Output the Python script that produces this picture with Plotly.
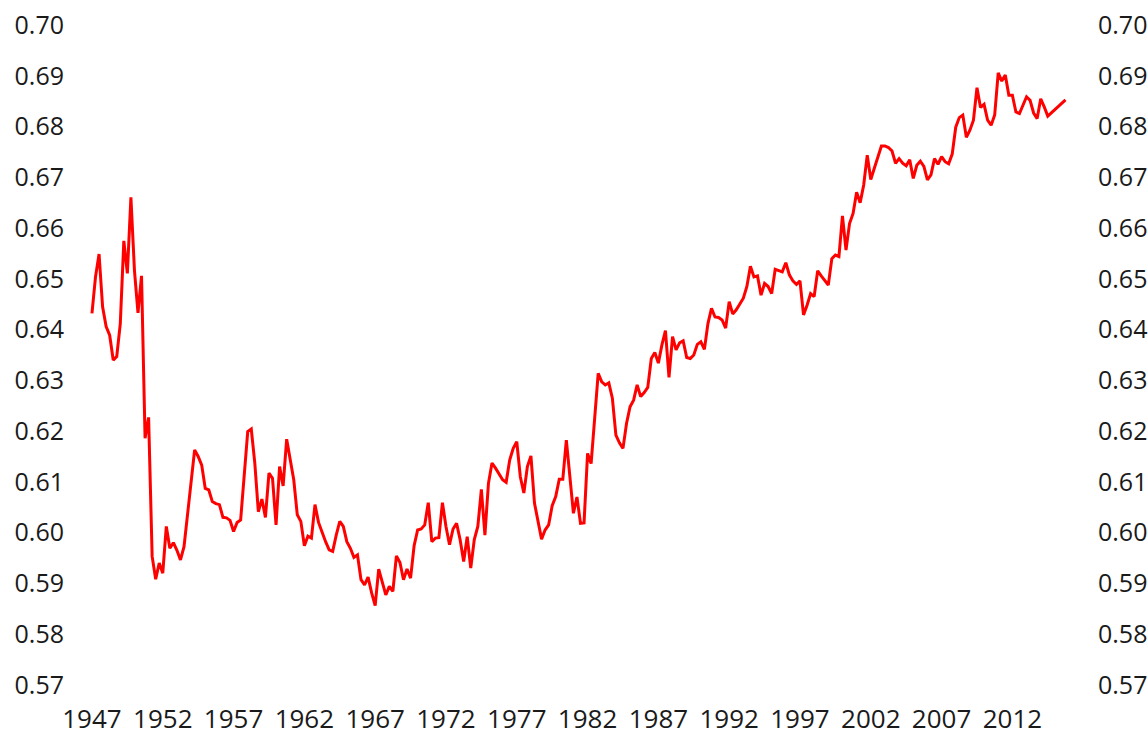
import plotly.graph_objects as go

# Quarterly series starting 1947 Q1
start_year = 1947
values = [
    0.6432, 0.6504, 0.6549, 0.6445, 0.6406, 0.6389, 0.6340, 0.6347,  # 1947-48
    0.6412, 0.6575, 0.6511, 0.6661, 0.6517, 0.6433, 0.6506, 0.6186,  # 1949-50
    0.6227, 0.5953, 0.5908, 0.5940, 0.5920, 0.6012, 0.5969, 0.5980,  # 1951-52
    0.5965, 0.5946, 0.5972, 0.6038, 0.6100, 0.6163, 0.6150, 0.6133,  # 1953-54
    0.6087, 0.6084, 0.6061, 0.6057, 0.6055, 0.6030, 0.6029, 0.6024,  # 1955-56
    0.6002, 0.6020, 0.6025, 0.6110, 0.6199, 0.6204, 0.6137, 0.6041,  # 1957-58
    0.6066, 0.6030, 0.6117, 0.6107, 0.6015, 0.6130, 0.6092, 0.6184,  # 1959-60
    0.6146, 0.6104, 0.6035, 0.6022, 0.5974, 0.5993, 0.5989, 0.6055,  # 1961-62
    0.6020, 0.5999, 0.5982, 0.5966, 0.5963, 0.5995, 0.6022, 0.6012,  # 1963-64
    0.5982, 0.5969, 0.5951, 0.5956, 0.5907, 0.5897, 0.5912, 0.5881,  # 1965-66
    0.5856, 0.5928, 0.5904, 0.5877, 0.5894, 0.5884, 0.5954, 0.5941,  # 1967-68
    0.5907, 0.5928, 0.5910, 0.5974, 0.6005, 0.6007, 0.6015, 0.6059,  # 1969-70
    0.5982, 0.5989, 0.5990, 0.6059, 0.6012, 0.5976, 0.6007, 0.6018,  # 1971-72
    0.5986, 0.5943, 0.5992, 0.5930, 0.5986, 0.6012, 0.6085, 0.5995,  # 1973-74
    0.6097, 0.6137, 0.6127, 0.6116, 0.6104, 0.6099, 0.6143, 0.6166,  # 1975-76
    0.6179, 0.6110, 0.6078, 0.6130, 0.6151, 0.6058, 0.6022, 0.5987,  # 1977-78
    0.6005, 0.6015, 0.6053, 0.6071, 0.6105, 0.6105, 0.6182, 0.6115,  # 1979-80
    0.6038, 0.6070, 0.6018, 0.6019, 0.6156, 0.6136, 0.6225, 0.6314,  # 1981-82
    0.6297, 0.6291, 0.6295, 0.6265, 0.6192, 0.6177, 0.6166, 0.6215,  # 1983-84
    0.6248, 0.6261, 0.6291, 0.6268, 0.6276, 0.6286, 0.6343, 0.6355,  # 1985-86
    0.6334, 0.6370, 0.6398, 0.6306, 0.6386, 0.6360, 0.6374, 0.6378,  # 1987-88
    0.6345, 0.6343, 0.6350, 0.6371, 0.6376, 0.6361, 0.6412, 0.6442,  # 1989-90
    0.6425, 0.6424, 0.6419, 0.6403, 0.6455, 0.6431, 0.6439, 0.6450,  # 1991-92
    0.6462, 0.6485, 0.6525, 0.6504, 0.6506, 0.6468, 0.6491, 0.6485,  # 1993-94
    0.6471, 0.6519, 0.6517, 0.6514, 0.6532, 0.6508, 0.6496, 0.6489,  # 1995-96
    0.6496, 0.6429, 0.6448, 0.6471, 0.6465, 0.6516, 0.6506, 0.6496,  # 1997-98
    0.6488, 0.6540, 0.6547, 0.6544, 0.6624, 0.6557, 0.6609, 0.6629,  # 1999-00
    0.6671, 0.6650, 0.6685, 0.6744, 0.6696, 0.6718, 0.6742, 0.6762,  # 2001-02
    0.6762, 0.6759, 0.6752, 0.6728, 0.6737, 0.6728, 0.6723, 0.6735,  # 2003-04
    0.6698, 0.6724, 0.6732, 0.6722, 0.6695, 0.6705, 0.6737, 0.6726,  # 2005-06
    0.6741, 0.6731, 0.6727, 0.6746, 0.6799, 0.6818, 0.6823, 0.6779,  # 2007-08
    0.6793, 0.6813, 0.6877, 0.6838, 0.6844, 0.6813, 0.6803, 0.6823,  # 2009-10
    0.6906, 0.6890, 0.6902, 0.6862, 0.6862, 0.6829, 0.6826, 0.6844,  # 2011-12
    0.6859, 0.6852, 0.6827, 0.6816, 0.6855, 0.6839, 0.6821,          # 2013-14
]
last_period = 2015.75
last_value = 0.6853

x_vals = [start_year + i / 4 for i in range(len(values))] + [last_period]
y_vals = values + [last_value]

tick_years = list(range(1947, 2013, 5))
tick_text = [str(y) for y in tick_years]
y_ticks = [0.57, 0.58, 0.59, 0.60, 0.61, 0.62, 0.63, 0.64, 0.65, 0.66, 0.67, 0.68, 0.69, 0.70]
y_ticktext = [f"{v:.2f}" for v in y_ticks]

yfont = dict(family="Open Sans", size=25, color="#1a1a1a")
xfont = dict(family="Open Sans", size=26, color="#1a1a1a")

fig = go.Figure()
fig.add_trace(go.Scatter(x=x_vals, y=y_vals, mode="lines",
                         line=dict(color="#ff0000", width=3), showlegend=False))
fig.add_trace(go.Scatter(x=x_vals, y=y_vals, mode="lines", yaxis="y2",
                         line=dict(color="rgba(0,0,0,0)", width=0),
                         hoverinfo="skip", showlegend=False))

yrange = [0.56995, 0.70005]

fig.update_layout(
    width=1148, height=734,
    margin=dict(l=72, r=60, t=25, b=49),
    paper_bgcolor="white", plot_bgcolor="white",
    font=yfont,
    xaxis=dict(range=[1945.59, 2017.34], tickvals=tick_years, ticktext=tick_text,
               showgrid=False, zeroline=False, showline=False, automargin=False,
               ticks="outside", ticklen=11, tickcolor="rgba(0,0,0,0)",
               tickfont=xfont, ticklabeloverflow="allow"),
    yaxis=dict(range=yrange, tickvals=y_ticks, ticktext=y_ticktext,
               showgrid=False, zeroline=False, showline=False, automargin=False,
               ticks="outside", ticklen=2, tickcolor="rgba(0,0,0,0)", tickfont=yfont,
               ticklabeloverflow="allow"),
    yaxis2=dict(range=yrange, tickvals=y_ticks, ticktext=y_ticktext,
                overlaying="y", side="right", automargin=False,
                showgrid=False, zeroline=False, showline=False,
                ticks="outside", ticklen=4, tickcolor="rgba(0,0,0,0)", tickfont=yfont,
                ticklabeloverflow="allow"),
)

# remove the default page margin so the figure fills the window exactly
page_fix = ("document.body.style.margin='0';"
            "document.documentElement.style.overflow='hidden';"
            "document.body.style.overflow='hidden';")

fig.write_html("out.html", post_script=page_fix,
               config={"displayModeBar": False})
